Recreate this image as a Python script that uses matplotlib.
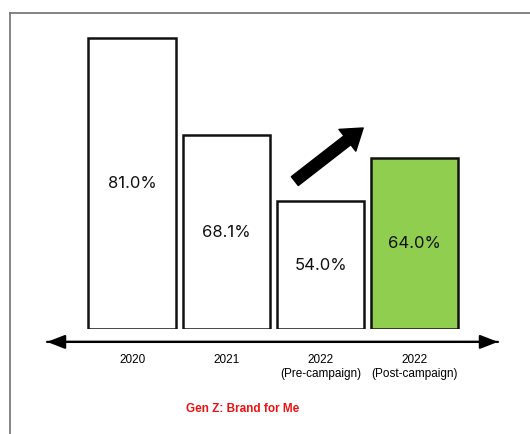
import numpy as np
import matplotlib
matplotlib.use("Agg")
import matplotlib.pyplot as plt
from matplotlib.lines import Line2D

# data
categories = ["2020", "2021", "2022\n(Pre-campaign)", "2022\n(Post-campaign)"]
values = [81.0, 68.1, 54.0, 64.0]
bar_colors = ["white", "white", "white", "#8fce4f"]
title = "Gen Z: Brand for Me"

# the bars in the source are not drawn to a linear scale; a linear + power
# scale reproduces their heights
C = 4.31e-8
grid = np.linspace(-200, 200, 4001)


def fwd(v):
    v = np.asarray(v, dtype=float)
    return v + C * np.sign(v) * np.abs(v) ** 4.8


def inv(y):
    return np.interp(np.asarray(y, dtype=float), fwd(grid), grid)


W, H = 530, 434
fig = plt.figure(figsize=(W / 100, H / 100), dpi=100)
ax = fig.add_axes([40 / W, (H - 329) / H, 465 / W, 300 / H])
ax.set_yscale("function", functions=(fwd, inv))

x = np.arange(len(values))
ax.bar(x, values, width=0.93, color=bar_colors, edgecolor="#111111", linewidth=1.8)
ax.set_xlim(-0.98, 3.96)
ax.set_ylim(0, 81.88)

# value labels at the visual middle of each bar
for xi, v in zip(x, values):
    ymid = inv(fwd(v) / 2)
    ax.text(xi, float(ymid), f"{v:.1f}%", ha="center", va="center",
            fontsize=12, family=["Inter", "DejaVu Sans"], color="#111111")

ax.set_xticks(x)
ax.set_xticklabels(categories, family=["Liberation Sans", "DejaVu Sans"],
                   fontsize=8.5, linespacing=1.25)
ax.tick_params(axis="x", length=0, pad=18)
ax.set_yticks([])
ax.minorticks_off()
for s in ax.spines.values():
    s.set_visible(False)

# double-headed axis arrow under the bars
for a, b in [(-0.905, 3.885), (3.885, -0.905)]:
    ax.annotate("", xy=(b, -0.043), xytext=(a, -0.043),
                xycoords=("data", "axes fraction"), textcoords=("data", "axes fraction"),
                arrowprops=dict(arrowstyle="-|>,head_length=0.9,head_width=0.35",
                                color="black", lw=1.6, shrinkA=0, shrinkB=0,
                                mutation_scale=12),
                annotation_clip=False)

# upward trend arrow
ax.annotate("", xy=(0.695, 0.67), xytext=(0.548, 0.493),
            xycoords="axes fraction", textcoords="axes fraction",
            arrowprops=dict(arrowstyle="simple,head_length=0.8,head_width=1.1,tail_width=0.45",
                            color="black", shrinkA=0, shrinkB=0, mutation_scale=18))

fig.text(243 / W, 1 - 409 / H, title, ha="center", va="center", color="#ee1111",
         fontsize=8.5, fontweight="bold", family=["Liberation Sans", "DejaVu Sans"])

# frame lines of the slide
fig.add_artist(Line2D([10 / W, 1.0], [1 - 13 / H, 1 - 13 / H], color="#7a7a7a", lw=1.3))
fig.add_artist(Line2D([10 / W, 10 / W], [0.0, 1 - 13 / H], color="#7a7a7a", lw=1.3))

fig.savefig("out.png", dpi=100)
